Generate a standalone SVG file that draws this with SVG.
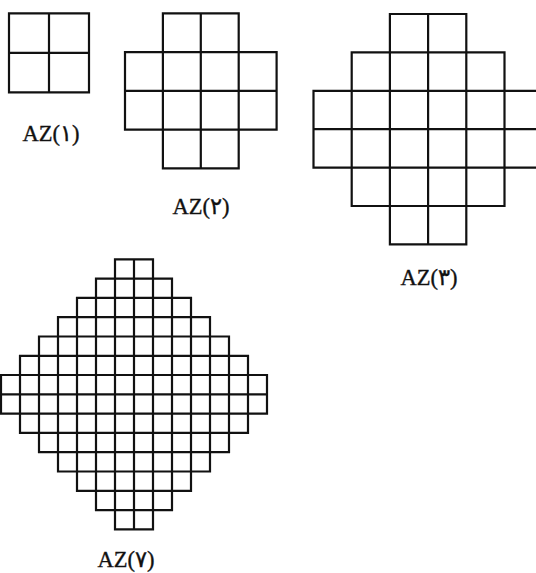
<svg xmlns="http://www.w3.org/2000/svg" width="536" height="573" viewBox="0 0 536 573">
<style>
.g{fill:none;stroke:#111;stroke-width:2.2;stroke-linecap:square}
.lbl{font-family:"Liberation Serif","DejaVu Serif","DejaVu Sans",serif;font-size:22.5px;fill:#111;stroke:#111;stroke-width:0.35;text-anchor:middle}
</style>
<rect width="536" height="573" fill="#fff"/>
<g id="az1">
<path class="g" d="M9 13.3H89V92.3H9Z M49 13.3V92.3 M9 52.8H89"/>
<text class="lbl" x="51" y="140.5">AZ(۱)</text>
</g>
<g id="az2">
<path class="g" d="M162.9 13.3H238.7 M125 52.05H276.6 M125 90.8H276.6 M125 129.55H276.6 M162.9 168.3H238.7
M125 52.05V129.55 M162.9 13.3V168.3 M200.8 13.3V168.3 M238.7 13.3V168.3 M276.6 52.05V129.55"/>
<text class="lbl" x="201" y="214">AZ(۲)</text>
</g>
<g id="az3">
<path class="g" d="M389.9 14H466.3 M351.7 52.4H504.5 M313.5 90.8H542.7 M313.5 129.2H542.7 M313.5 167.6H542.7 M351.7 206H504.5 M389.9 244.4H466.3
M313.5 90.8V167.6 M351.7 52.4V206 M389.9 14V244.4 M428.1 14V244.4 M466.3 14V244.4 M504.5 52.4V206 M542.7 90.8V167.6"/>
<text class="lbl" x="429" y="285">AZ(۳)</text>
</g>
<g id="az7">
<path class="g" d="M115 259.3H153 M96 278.6H172 M77 297.9H191 M58 317.2H210 M39 336.5H229 M20 355.8H248 M1 375H267 M1 394.3H267 M1 413.6H267 M20 432.9H248 M39 452.2H229 M58 471.5H210 M77 490.8H191 M96 510.1H172 M115 529.4H153
M1 375V413.6 M20 355.8V432.9 M39 336.5V452.2 M58 317.2V471.5 M77 297.9V490.8 M96 278.6V510.1 M115 259.3V529.4 M134 259.3V529.4 M153 259.3V529.4 M172 278.6V510.1 M191 297.9V490.8 M210 317.2V471.5 M229 336.5V452.2 M248 355.8V432.9 M267 375V413.6"/>
<text class="lbl" x="126" y="567">AZ(۷)</text>
</g>
</svg>
